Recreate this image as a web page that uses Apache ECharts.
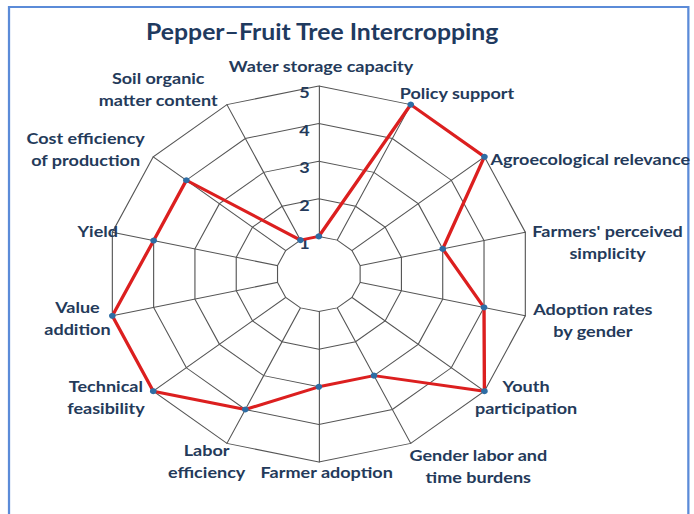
<!DOCTYPE html>
<html lang="en">
<head>
<meta charset="UTF-8">
<title>Pepper–Fruit Tree Intercropping</title>
<script src="https://cdn.jsdelivr.net/npm/echarts@6/dist/echarts.min.js"></script>
<style>
  html, body { margin: 0; padding: 0; overflow: hidden; background: #fff; }
  /* the source picture is stretched sideways, so draw narrower and widen it */
  #main { width: 616px; height: 514px; transform: scaleX(1.1266); transform-origin: 0 0; }
</style>
</head>
<body>
<div id="main"></div>
<script>
// clockwise from the top
var criteria = ['Water storage capacity', 'Policy support', 'Agroecological relevance',
    "Farmers' perceived\nsimplicity", 'Adoption rates\nby gender', 'Youth\nparticipation',
    'Gender labor and\ntime burdens', 'Farmer adoption', 'Labor\nefficiency',
    'Technical\nfeasibility', 'Value\naddition', 'Yield', 'Cost efficiency\nof production',
    'Soil organic\nmatter content'];
var scores = [1, 5, 5, 3, 4, 5, 3, 3, 4, 5, 5, 4, 4, 1];
var tickLabels = ['1', '2', '3', '4', '5'];
var scoreMax = 5;

// where each name sits, centre offset from the outer corner of its spoke
var nameShift = [[2, -20], [41, -12], [94, 2], [73, 10], [60, 4], [37, 6], [60, 23],
    [7, 10], [-18, 18], [-42, 6], [-31, 2], [-13, -1], [-60, -8], [-61, -16]];

var txt = '#243a5a';
var font = 'Lato';
var gridCol = '#555';
var cx = 283, cy = 274, R = 188;

// echarts lays radar spokes out anticlockwise, so flip the order after the first
var order = [0];
for (var i = criteria.length - 1; i > 0; i--) order.push(i);

var plainInd = order.map(function (k) { return { name: criteria[k], min: 0, max: scoreMax }; });

var labelInd = order.map(function (k) {
    var dx = nameShift[k][0], dy = nameShift[k][1];
    var ind = {
        name: criteria[k],
        min: 0,
        max: scoreMax,
        nameTextStyle: {
            align: 'center',
            verticalAlign: 'middle',
            padding: [Math.max(2 * dy, 0), Math.max(-2 * dx, 0), Math.max(-2 * dy, 0), Math.max(2 * dx, 0)]
        }
    };
    if (k === 0) ind.axisLabel = { show: true };
    return ind;
});

var chart = echarts.init(document.getElementById('main'), null, { renderer: 'svg' });
chart.setOption({
    animation: false,
    title: {
        text: 'Pepper–Fruit Tree Intercropping',
        left: 281,
        top: 16,
        textAlign: 'center',
        textStyle: { fontFamily: font, fontWeight: 'bold', fontSize: 22, color: '#1f3a5f' }
    },
    graphic: [{
        type: 'rect',
        shape: { x: 8, y: 7, width: 603, height: 600 },
        style: { fill: 'none', stroke: '#5b8bd8', lineWidth: 2 },
        silent: true
    }],
    radar: [
        {   // spokes only
            z: 0,
            center: [cx, cy], radius: R, shape: 'polygon', splitNumber: 5,
            axisName: { show: false },
            axisLine: { lineStyle: { color: gridCol, width: 1 } },
            splitLine: { show: false },
            splitArea: { show: false },
            indicator: plainInd
        },
        {   // white hole inside ring 1
            z: 1,
            center: [cx, cy], radius: R / scoreMax, shape: 'polygon', splitNumber: 1,
            axisName: { show: false },
            axisLine: { show: false },
            splitLine: { show: false },
            splitArea: { show: true, areaStyle: { color: ['#fff'], opacity: 1 } },
            indicator: plainInd
        },
        {   // rings, tick labels, names
            z: 2,
            center: [cx, cy], radius: R, shape: 'polygon', splitNumber: 5,
            nameGap: 0,
            axisName: {
                fontFamily: font,
                fontWeight: 'bold',
                fontSize: 16,
                color: txt,
                formatter: function (name) {
                    return name.split('\n').map(function (l) { return '{c|' + l + '}'; }).join('\n');
                },
                rich: {
                    c: { align: 'center', fontFamily: font, fontWeight: 'bold', fontSize: 16, color: txt, lineHeight: 22 }
                }
            },
            axisLine: { show: false },
            splitLine: { lineStyle: { color: gridCol, width: 1 } },
            splitArea: { show: false },
            axisLabel: {
                show: false,
                fontFamily: font,
                fontWeight: 'bold',
                fontSize: 16,
                lineHeight: 12,
                color: txt,
                align: 'right',
                verticalAlign: 'top',
                formatter: function (v) { return v > 0 ? tickLabels[v - 1] : ''; }
            },
            indicator: labelInd
        }
    ],
    series: [{
        type: 'radar',
        radarIndex: 2,
        z: 3,
        symbol: 'circle',
        symbolSize: 6,
        itemStyle: { color: '#2e6da4' },
        lineStyle: { color: '#dc1f1f', width: 3 },
        data: [{ value: order.map(function (k) { return scores[k]; }) }]
    }]
});
</script>
</body>
</html>
